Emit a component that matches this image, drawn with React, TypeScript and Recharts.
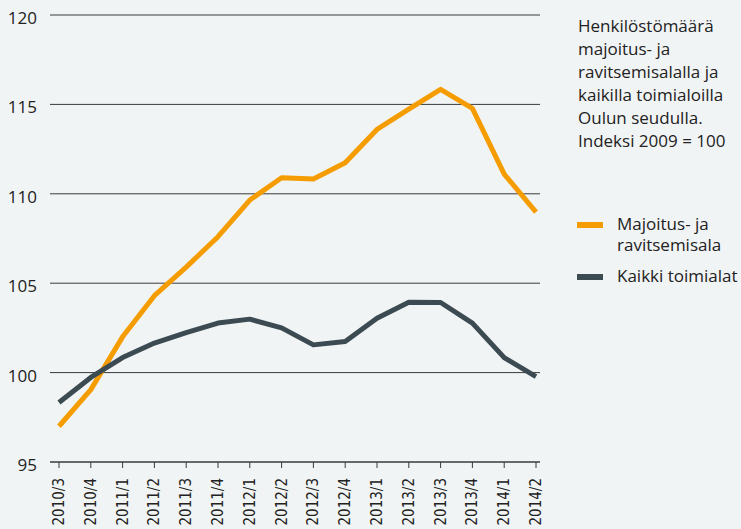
import { CartesianGrid, Line, LineChart, XAxis, YAxis } from 'recharts';

const quarters = [
  '2010/3', '2010/4', '2011/1', '2011/2', '2011/3', '2011/4', '2012/1', '2012/2',
  '2012/3', '2012/4', '2013/1', '2013/2', '2013/3', '2013/4', '2014/1', '2014/2',
];
const majoitus = [97.0, 99.05, 102.0, 104.3, 105.9, 107.6, 109.65, 110.9, 110.83, 111.74, 113.6, 114.74, 115.84, 114.78, 111.1, 108.97];
const kaikki = [98.33, 99.73, 100.84, 101.65, 102.24, 102.77, 102.99, 102.5, 101.55, 101.74, 103.04, 103.94, 103.92, 102.77, 100.84, 99.78];
const yTicks = [95, 100, 105, 110, 115, 120];
const titleLines = [
  'Henkilöstömäärä',
  'majoitus- ja',
  'ravitsemisalalla ja',
  'kaikilla toimialoilla',
  'Oulun seudulla.',
  'Indeksi 2009 = 100',
];
const series = [
  { key: 'majoitus', name: ['Majoitus- ja', 'ravitsemisala'], color: '#f59c00' },
  { key: 'kaikki', name: ['Kaikki toimialat'], color: '#3c4a52' },
];

const data = quarters.map((q, i) => ({ q, majoitus: majoitus[i], kaikki: kaikki[i] }));

const font = "'Open Sans', Lato, sans-serif";

const XTick = ({ x, y, payload }: any) => (
  <g transform={`translate(${x},${y})`}>
    <text
      transform="rotate(-90)"
      x={-8}
      y={0}
      dy={5}
      textAnchor="end"
      fontSize={15}
      fill="#222"
      fontFamily="'Liberation Sans Narrow', 'DejaVu Sans Condensed', Roboto, sans-serif"
    >
      {payload.value}
    </text>
  </g>
);

const YTick = ({ x, y, payload }: any) => (
  <text x={x} y={y} dy={9} textAnchor="end" fontSize={17} fill="#222" fontFamily={font}>
    {payload.value}
  </text>
);

export default function App() {
  return (
    <div style={{ position: 'absolute', left: 0, top: 0, width: 741, height: 529, background: '#f1f4f5', overflow: 'hidden' }}>
      <div
        style={{
          position: 'absolute',
          left: 578,
          top: 14,
          width: 170,
          fontFamily: font,
          fontSize: 17,
          lineHeight: '23px',
          color: '#222',
        }}
      >
        {titleLines.map((t) => (
          <div key={t}>{t}</div>
        ))}
      </div>
      <div style={{ position: 'absolute', left: 577, top: 213, width: 170, fontFamily: font, fontSize: 17, color: '#222' }}>
        {series.map((s) => (
          <div key={s.key} style={{ display: 'flex', alignItems: 'flex-start', marginBottom: 10 }}>
            <div style={{ width: 26, height: 6, background: s.color, marginTop: 9, marginRight: 14, flex: 'none' }} />
            <div style={{ lineHeight: '21px' }}>
              {s.name.map((n) => (
                <div key={n}>{n}</div>
              ))}
            </div>
          </div>
        ))}
      </div>
      <LineChart width={741} height={529} data={data} margin={{ top: 15, right: 201, left: 0, bottom: 0 }}>
        <CartesianGrid vertical={false} stroke="#3a3a3a" />
        <XAxis
          dataKey="q"
          height={67}
          padding={{ left: 9, right: 4 }}
          interval={0}
          tick={<XTick />}
          tickSize={6}
          stroke="#3a3a3a"
        />
        <YAxis
          domain={[95, 120]}
          ticks={yTicks}
          width={50}
          tick={<YTick />}
          tickLine={false}
          axisLine={false}
          tickMargin={7}
        />
        {series.map((s) => (
          <Line
            key={s.key}
            dataKey={s.key}
            stroke={s.color}
            strokeWidth={5}
            dot={false}
            activeDot={false}
            strokeLinejoin="round"
            isAnimationActive={false}
          />
        ))}
      </LineChart>
    </div>
  );
}
